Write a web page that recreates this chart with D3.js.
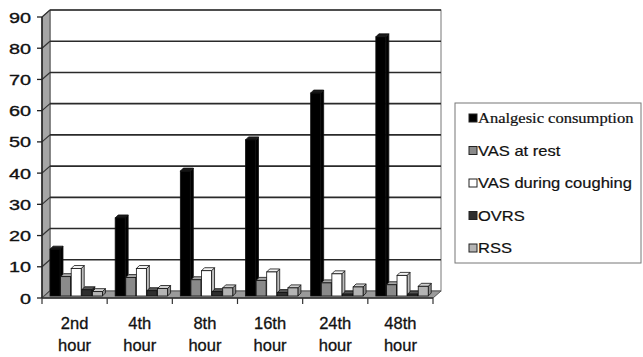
<!DOCTYPE html>
<html><head><meta charset="utf-8">
<script src="https://cdn.jsdelivr.net/npm/d3@7/dist/d3.min.js"></script>
<style>html,body{margin:0;padding:0;background:#fff;}svg{display:block;}</style>
</head><body>
<script>
const categories = ["2nd hour","4th hour","8th hour","16th hour","24th hour","48th hour"];
const seriesNames = ["Analgesic consumption","VAS at rest","VAS during  coughing","OVRS","RSS"];
const analgesic = [15, 25, 40, 50, 65, 83];
const vasRest = [6.2, 5.9, 5.2, 5.0, 4.2, 3.6];
const vasCough = [8.8, 8.8, 8.1, 7.7, 7.1, 6.6];
const ovrs = [2.0, 1.7, 1.4, 1.1, 0.6, 0.6];
const rss = [1.4, 2.4, 2.6, 2.6, 2.9, 3.1];
const yTicks = [0,10,20,30,40,50,60,70,80,90];
const seriesValues = [analgesic, vasRest, vasCough, ovrs, rss];
const fills = ["#000000","#8a8a8a","#ffffff","#2e2e2e","#b4b4b4"];
const tops = ["#1a1a1a","#a8a8a8","#f2f2f2","#555555","#cfcfcf"];
const sides = ["#000000","#606060","#bdbdbd","#1a1a1a","#8c8c8c"];

const W = 643, H = 357;
const svg = d3.select("body").append("svg").attr("width", W).attr("height", H);

const y = d3.scaleLinear().domain([0, 90]).range([298, 17]);
const x = d3.scaleBand().domain(categories).range([42, 433]).padding(0);
const xs = d3.scaleBand().domain(seriesNames).range([8, 61]).padding(0);
const DX = 8, DY = -7; // wall depth
const bdx = 3, bdy = -3; // bar depth

const x0 = 42, x1 = 433;
// back wall
svg.append("rect").attr("x", x0 + DX).attr("y", y(90) + DY).attr("width", x1 - x0).attr("height", y(0) - y(90))
  .attr("fill", "#fff").attr("stroke", "#777").attr("stroke-width", 1);
// left wall
svg.append("polygon")
  .attr("points", [[x0, y(0)], [x0, y(90)], [x0 + DX, y(90) + DY], [x0 + DX, y(0) + DY]].join(" "))
  .attr("fill", "#a6a6a6").attr("stroke", "#555").attr("stroke-width", 1);
// gridlines
yTicks.forEach(v => {
  if (v > 0) svg.append("line").attr("x1", x0 + DX).attr("x2", x1 + DX).attr("y1", y(v) + DY).attr("y2", y(v) + DY)
    .attr("stroke", "#2a2a2a").attr("stroke-width", 1.6);
  svg.append("line").attr("x1", x0).attr("x2", x0 + DX).attr("y1", y(v)).attr("y2", y(v) + DY)
    .attr("stroke", "#333").attr("stroke-width", 1.2);
});
// floor
svg.append("polygon")
  .attr("points", [[x0, y(0)], [x1, y(0)], [x1 + DX, y(0) + DY], [x0 + DX, y(0) + DY]].join(" "))
  .attr("fill", "#9a9a9a").attr("stroke", "#555").attr("stroke-width", 1);

// y axis front
const yAxis = svg.append("g");
yAxis.append("line").attr("x1", x0).attr("x2", x0).attr("y1", y(0)).attr("y2", y(90)).attr("stroke", "#222").attr("stroke-width", 1.5);
yTicks.forEach(v => {
  yAxis.append("line").attr("x1", x0 - 5).attr("x2", x0).attr("y1", y(v)).attr("y2", y(v)).attr("stroke", "#222").attr("stroke-width", 1.3);
  yAxis.append("text").attr("transform", `translate(31,${y(v) + 5.5}) scale(1.28,1)`)
    .attr("text-anchor", "end").attr("font-family", "Liberation Sans, Arial, sans-serif")
    .attr("font-size", 15.5).attr("fill", "#111").attr("stroke", "#111").attr("stroke-width", 0.35).text(v);
});

// bars
categories.forEach((c, ci) => {
  seriesNames.forEach((s, si) => {
    const v = seriesValues[si][ci];
    const bx = x(c) + xs(s);
    const bw = xs.bandwidth() - 0.6;
    const yb = y(0) - 2, yt = y(v) - 2;
    const g = svg.append("g");
    g.append("polygon").attr("points", [[bx + bw, yb], [bx + bw, yt], [bx + bw + bdx, yt + bdy], [bx + bw + bdx, yb + bdy]].join(" "))
      .attr("fill", sides[si]).attr("stroke", "#111").attr("stroke-width", 0.8);
    g.append("polygon").attr("points", [[bx, yt], [bx + bw, yt], [bx + bw + bdx, yt + bdy], [bx + bdx, yt + bdy]].join(" "))
      .attr("fill", tops[si]).attr("stroke", "#111").attr("stroke-width", 0.8);
    g.append("rect").attr("x", bx).attr("y", yt).attr("width", bw).attr("height", yb - yt)
      .attr("fill", fills[si]).attr("stroke", "#111").attr("stroke-width", 0.8);
  });
});

// x axis front line and ticks
svg.append("line").attr("x1", x0).attr("x2", x1).attr("y1", y(0)).attr("y2", y(0)).attr("stroke", "#333").attr("stroke-width", 1.3);
const bounds = categories.map(c => x(c)).concat([x1]);
bounds.forEach(b => svg.append("line").attr("x1", b).attr("x2", b).attr("y1", y(0)).attr("y2", y(0) + 6).attr("stroke", "#333").attr("stroke-width", 1.2));
categories.forEach(c => {
  const parts = c.split(" ");
  const t = svg.append("text").attr("text-anchor", "middle").attr("font-family", "Liberation Sans, Arial, sans-serif")
    .attr("font-size", 16.5).attr("fill", "#111").attr("stroke", "#111").attr("stroke-width", 0.3);
  parts.forEach((p, i) => t.append("tspan").attr("x", x(c) + x.bandwidth() / 2).attr("y", 329 + i * 22).text(p));
});

// legend
const lg = svg.append("g");
lg.append("rect").attr("x", 455).attr("y", 103).attr("width", 186).attr("height", 160)
  .attr("fill", "#fff").attr("stroke", "#777").attr("stroke-width", 1);
seriesNames.forEach((s, i) => {
  const ly = 118 + i * 32.5;
  lg.append("rect").attr("x", 469).attr("y", ly - 4).attr("width", 8).attr("height", 8)
    .attr("fill", fills[i]).attr("stroke", "#222").attr("stroke-width", 1);
  lg.append("text").attr("transform", `translate(478,${ly + 5}) scale(1.18,1)`)
    .attr("font-family", i === 0 ? "Liberation Serif, Times New Roman, serif" : "Liberation Sans, Arial, sans-serif")
    .attr("font-size", 14).attr("fill", "#111").attr("stroke", "#111").attr("stroke-width", 0.2).text(s);
});
</script>
</body></html>
